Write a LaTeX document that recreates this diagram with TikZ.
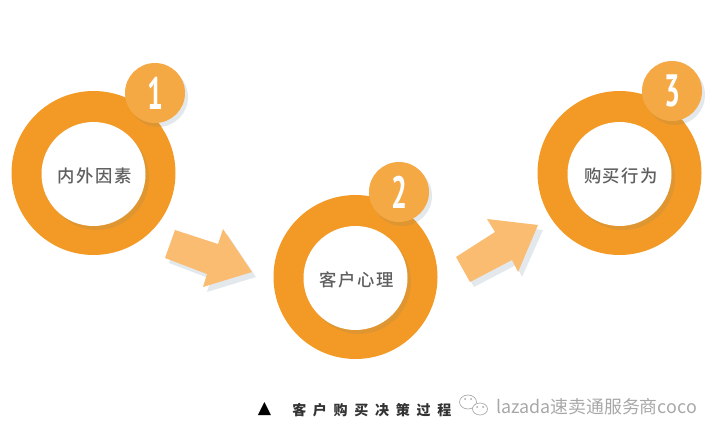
\documentclass[tikz,border=0pt]{standalone}
\usepackage{fontspec}
\setmainfont{Noto Sans CJK SC}
\newfontfamily\numfont{PT Sans}
\newfontfamily\capfont[LetterSpace=48]{Noto Sans CJK SC}
\newfontfamily\titlefont[LetterSpace=9]{Noto Sans CJK SC Medium}
\newfontfamily\symfont{DejaVu Sans}
\usetikzlibrary{positioning}
\definecolor{ringtone}{HTML}{F39A26}
\definecolor{ringshade}{HTML}{DF9631}
\definecolor{badgetone}{HTML}{F5A944}
\definecolor{arrowtone}{HTML}{F9BC70}
\definecolor{softshade}{HTML}{E3E8EC}
\definecolor{labelgray}{HTML}{5F5F5F}
\definecolor{markgray}{HTML}{A8A8A8}
\tikzset{
  ringdisc/.style={circle,fill=ringtone,inner sep=0pt,minimum size=123pt},
  holedisc/.style={circle,fill=white,inner sep=0pt,minimum size=78pt},
  holeshade/.style={circle,fill=ringshade,inner sep=0pt,minimum size=78pt},
  titletext/.style={text=labelgray,font=\titlefont\fontsize{13}{13}\selectfont},
  badgedisc/.style={circle,fill=badgetone,inner sep=0pt,minimum size=45pt},
  softdisc/.style={circle,fill=softshade,inner sep=0pt,minimum size=45pt},
  darkdisc/.style={circle,fill=ringshade,inner sep=0pt,minimum size=45pt},
  numtext/.style={text=white,font=\numfont\bfseries\fontsize{34}{34}\selectfont,xscale=.62},
}
\begin{document}
\begin{tikzpicture}[x=.75pt,y=-.75pt]
\useasboundingbox (0,0) rectangle (720,438);
% Arrows first, each with its pale shadow behind it.
\fill[softshade] (179,235) -- (222,249) -- (227,234) -- (256,277) -- (207,292) -- (211,279) -- (169,263) -- cycle;
\fill[arrowtone] (175,230) -- (218,244) -- (223,229) -- (252,272) -- (203,287) -- (207,274) -- (165,258) -- cycle;
\fill[softshade] (460,262) -- (499,237) -- (491,224) -- (543,230) -- (522,277) -- (516,265) -- (474,287) -- cycle;
\fill[arrowtone] (456,257) -- (495,232) -- (487,219) -- (538,225) -- (518,272) -- (512,260) -- (470,282) -- cycle;
% Three rings, each with a numbered badge on its upper right.
\foreach \x/\y/\bx/\by/\num/\title in {93.5/173/155/93/1/内外因素,355.5/277/399/192/2/客户心理,619.5/173/672/91/3/购买行为}{
  \node[softdisc] (soft\num) at (\bx+3,\by+4) {};
  \node[ringdisc] (ring\num) at (\x,\y) {};
  \begin{scope}
    \clip (\x,\y) circle [radius=82];
    \node[darkdisc] (dark\num) at (\bx+3,\by+4) {};
  \end{scope}
  \node[holeshade] (shade\num) at (\x+3.5,\y+5) {};
  \node[holedisc] (hole\num) at (\x,\y+1) {};
  \node[titletext] (title\num) at (\x+1.5,\y+3) {\title};
  \node[badgedisc] (badge\num) at (\bx,\by) {};
  \node[numtext] (digit\num) at (\bx,\by) {\num};
}
% Caption and the mark beside it.
\node[anchor=center,font=\symfont\fontsize{13}{13}\selectfont] (capmark) at (264.5,409) {▲};
\node[anchor=west,inner sep=0pt,font=\capfont\bfseries\fontsize{10.5}{10.5}\selectfont,text=black!80] (captext) at (292,410) {客户购买决策过程};
\draw[markgray,line width=.5pt,fill=white] (468,402) ellipse [x radius=8.5,y radius=7];
\draw[markgray,line width=.5pt,fill=white] (480,409) ellipse [x radius=7.5,y radius=6];
\foreach \dx/\dy in {465/399,471/399,477/407,483/407}{\fill[markgray] (\dx,\dy) circle [radius=1];}
\node[anchor=west,inner sep=0pt,text=markgray,font=\fontsize{13.4}{13.4}\selectfont] (marktext) at (496,407) {lazada速卖通服务商coco};
\end{tikzpicture}
\end{document}
